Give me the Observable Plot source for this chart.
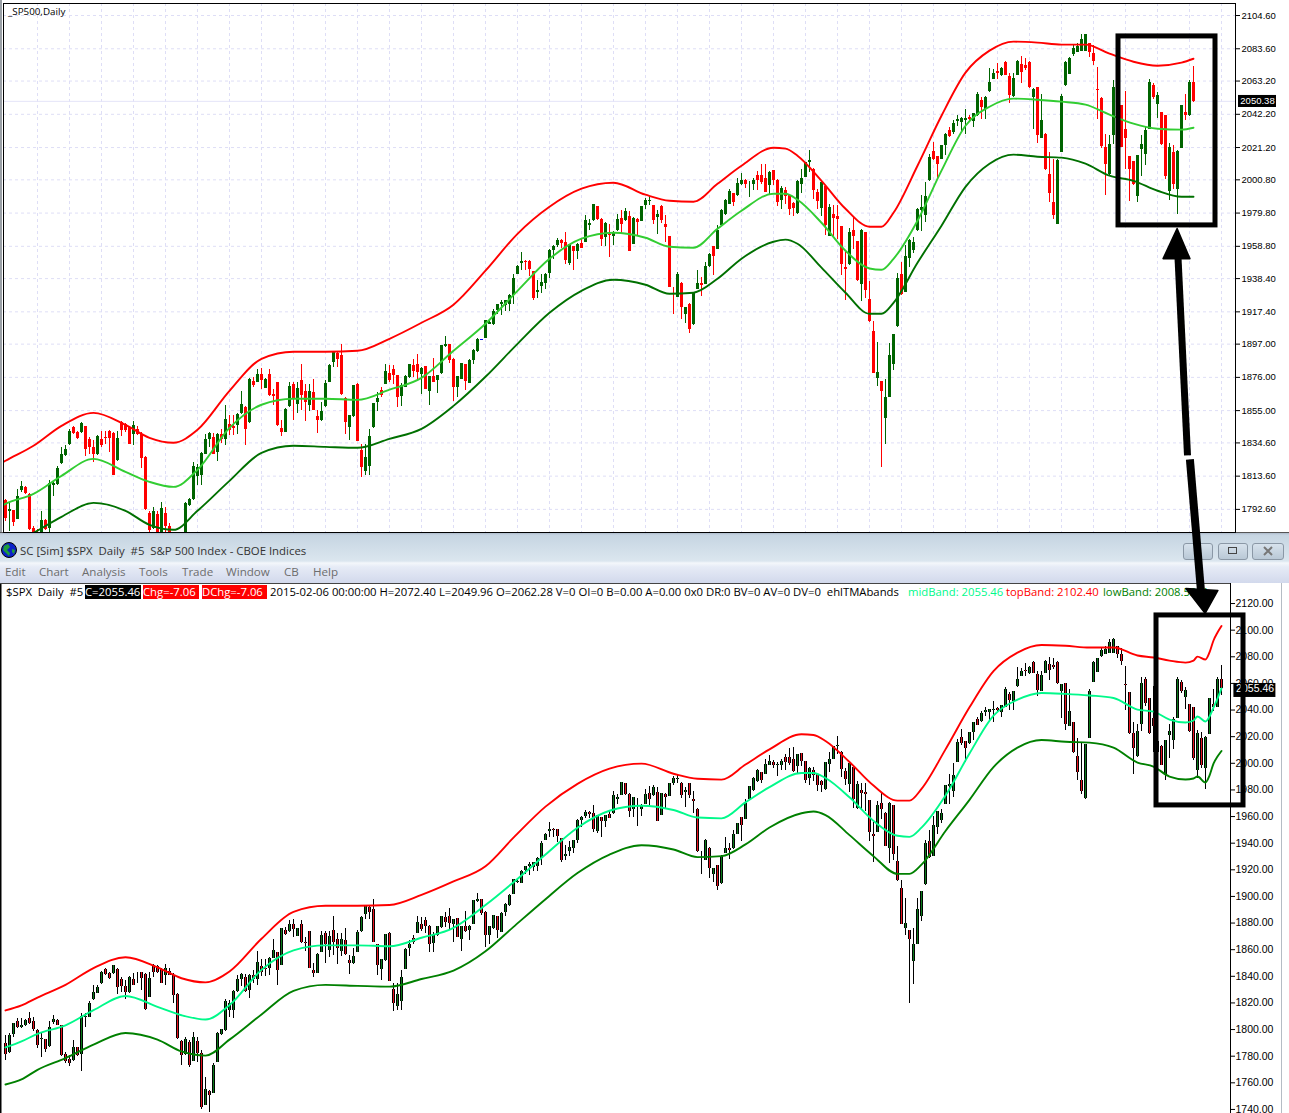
<!DOCTYPE html>
<html><head><meta charset="utf-8">
<script src="https://cdn.jsdelivr.net/npm/d3@7"></script>
<script src="https://cdn.jsdelivr.net/npm/@observablehq/plot@0.6"></script>
<style>
html,body{margin:0;padding:0;background:#fff;width:1289px;height:1113px;overflow:hidden;font-family:"Open Sans","Noto Sans",sans-serif}
#page{position:relative;width:1289px;height:1113px;overflow:hidden}
.abs{position:absolute;white-space:pre}
#topPanel{position:absolute;left:0;top:0;z-index:5}
#bottomPanel{position:absolute;left:0;top:583px;z-index:2}
#chrome{position:absolute;left:0;top:532px;width:1289px;height:51px;z-index:1;background:linear-gradient(#aebccb 0,#c6d5e2 2px,#dbe6ef 28px,#f4f7fb 30px,#e6ebf6 34px,#d2d9ec 50px);border-top:1px solid #555;box-sizing:border-box}
.title{font-size:11.4px;color:#333;z-index:3;top:543px;line-height:16px}
.menu{font-size:11.6px;color:#6d6d6d;z-index:3;top:564px;line-height:16px}
.info{font-size:11.3px;color:#000;z-index:3;top:585px;line-height:14px;height:14px}
.btn{position:absolute;top:543px;height:15px;border:1px solid #8b98a6;border-radius:3px;z-index:3;background:linear-gradient(#d7e2ec,#b9c8d6);box-sizing:content-box}
</style></head><body><div id="page">
<div id="chrome"></div>
<div id="topPanel"></div>
<div id="bottomPanel"></div>
</div>
<script>
// Candle values, oldest to newest. The first 8 appear only in the lower chart; index 127 only in the upper one.
const opens=[1788.5,1782.3,1795.6,1805,1801,1802,1807.3,1805,
1798.5,1791.5,1791.6,1786.4,1804.3,1806.4,1802,1780.5,1777,1776,1785.5,1780.5,1808,1808.5,1821.6,1826.4,1833.8,1844.3,1841,1841,1844.7,1837,
1831.7,1827,1837,1837.8,1841.8,1840.5,1823.2,1847.5,1846.4,1844.3,1839.7,1843.2,1840,1825.5,1790,1780.5,1789.5,1775.5,1790,1781.5,
1742.5,1752.5,1751.5,1774.8,1795.3,1798.6,1813.6,1813.8,1827.5,1837,1838,1828.5,1840,1836.9,1846.4,1844.8,1845.4,1853,1857,1847.5,
1873.4,1872.8,1878,1869,1878,1865,1872.8,1843.9,1841.2,1857.4,1871.3,1858.6,1873.8,1867,1858,1866.4,1851,1848.5,1857.4,1872.8,
1885.4,1891.1,1889.6,1862.9,1844.3,1851,1871.3,1829.6,1816.5,1820,1844.3,1860.1,1867.5,1871.7,1878.4,1881.2,1877,1864,1869.6,1875.9,
1883.3,1884.3,1878,1882.7,1867,1876.3,1873.8,1878.4,1895.3,1896.6,1887.5,1869.6,1874.9,1884,1872.1,1886.9,1892.3,1899.9,1900.8,1909.6,
1909.2,1918.5,1921.8,1921.2,1921.8,1927.5,1941.2,1948,1949.2,1949.2,1942.7,1929.4,1933.2,1935.3,1941.6,1956,1959.1,1962.3,1961.2,1948,
1958.5,1955.6,1960.6,1961.2,1971.8,1974.9,1983.8,1976,1964.4,1966,1964.8,1968.6,1976.6,1974.9,1977.5,1960.2,1976,1974.5,1984.4,1987.2,
1984.4,1977,1984,1972.4,1964.8,1928,1926.5,1935.3,1916,1922.3,1909.2,1931.7,1935.3,1934.9,1945.9,1958.5,1957,1971.8,1978.7,1985.5,
1992.2,1990.7,1997.7,2000.2,1997.7,1997.7,2003.4,2003.4,2001.9,1997,2006.5,2000.6,1987.6,1993.9,1990.7,1985.9,1979.6,1998.1,2002.3,2011.8,
2007.6,1992.8,1983,1996.4,1965,1978.7,1977.5,1971.1,1945.4,1947.1,1969,1961.9,1934.9,1967.6,1925.4,1905,1875.5,1873.4,1850.2,1863.3,
1883.9,1907.9,1940.8,1929.6,1951.3,1956,1968.6,1981.7,1978.1,2000.2,2018.8,2015.4,2013.9,2022.3,2031.8,2030.8,2037.5,2037.1,2038.6,2040.2,
2037.7,2041.3,2050.8,2045.5,2056.7,2064.5,2069.3,2066.6,2075,2066,2053.3,2066.6,2073.5,2072.9,2075,2053,2059.2,2027.2,2029.7,2004.4,
1986.5,1972.8,2018,2060.2,2067.6,2079.8,2081.3,2081.9,2081.9,2087,2080.7,2058.1,2052.4,2021.3,2004,2028.6,2062,2047.6,2032.9,2015.4,
2012.2,1990.1,2019.8,2016.7,2032.9,2060.3,2048.7,2043.4,2041.3,1993.5,2018.1,1995,2020.9,2043.4,2041.3,2062.28];
const highs=[1795,1796,1804,1807.3,1807.3,1806.6,1812.3,1808,
1799,1797,1792,1805,1810,1807,1802.5,1782,1779.8,1791,1786,1811,1811,1820,1832,1832.7,1843,1845,1842,1847.5,1845,1838,
1836,1839,1841.5,1842,1842.3,1841,1842,1848,1847,1845,1848,1845,1841,1826,1791,1793.5,1791,1797,1793.5,1783.5,
1763.5,1753.5,1773.5,1797,1799.5,1822.2,1821,1828.5,1840,1841,1840.5,1840.5,1843.3,1858,1851.7,1851.7,1853.2,1867,1857.5,1875.5,
1876,1881,1881.8,1875.5,1881.2,1868.5,1873,1848.5,1856.5,1872.8,1872.8,1872.8,1883.9,1871.7,1871.7,1874.9,1854.9,1860.1,1873.8,1884.4,
1892.4,1892.4,1896.6,1863.2,1851.9,1871,1872.1,1833.8,1833.8,1843.3,1859.8,1866.4,1869.6,1883.9,1883.3,1883.3,1877.5,1872,1877,1884.4,
1887.5,1890.2,1882,1883,1876.5,1888.1,1877.5,1896,1901.6,1897,1888,1876.5,1885,1884.3,1887,1893.8,1900.4,1899.9,1912,1911,
1919.1,1922,1924.8,1924.6,1928.2,1940.8,1946.5,1954.9,1950,1949.6,1943,1937.4,1940.8,1941.4,1957,1959,1964,1963.3,1967.6,1960,
1958.8,1960.4,1963.3,1978.1,1976,1985.2,1984,1976.2,1973.8,1972.8,1968.2,1979.2,1981.7,1982.9,1980.8,1976.8,1976.2,1984,1989.3,1990.1,
1984.7,1981.3,1984.4,1978.1,1965,1932.8,1942,1935.9,1920.4,1922.5,1929.8,1943.7,1939.1,1948.6,1954.3,1958.7,1971.8,1981.9,1988.6,1994.9,
1992.4,2001.9,2004.9,2001.3,1999.8,2001.9,2006.1,2010.3,2010.8,2006.1,2006.7,2000.8,1996.4,1996,1991.8,1986.5,2000.2,2007.6,2011.9,2019.2,
2007.8,1995,1999.4,1996.6,1985.5,1984.4,1984.4,1971.3,1954.9,1970.3,1977.5,1962.1,1969.6,1967.8,1936.6,1911.3,1898,1873.6,1874.9,1897.4,
1903.1,1941.6,1948.6,1959.1,1963,1964.4,1982.5,1990.7,1999.2,2017,2024.5,2015.6,2022.5,2030.2,2033.9,2038.2,2041.3,2040,2045.5,2041.3,
2042.8,2056,2052.5,2053.3,2071.4,2070.8,2074,2071.8,2075.5,2068,2068,2076.2,2079,2077.7,2075.6,2058.8,2059.4,2055,2029.9,2018,
2013.9,2013.5,2055,2075.5,2078,2086.2,2087,2092.5,2092.9,2087.2,2085.5,2071.8,2052.8,2029.7,2028.6,2063.4,2063.4,2047.8,2056.7,2015.6,
2012.4,2016.2,2028.7,2033.9,2063.9,2061.4,2056,2043.6,2041.5,2023.8,2022.3,2019.6,2047.8,2054.6,2063.4,2072.4];
const lows=[1776,1781.5,1793.5,1799.8,1799.8,1801.5,1803,1798,
1785,1778.5,1782,1786,1803,1802,1779,1773.5,1771.5,1775,1779,1768,1801,1808,1821,1826,1833,1840,1837,1840.5,1825.8,1827,
1822,1826.5,1832,1833.8,1828.5,1813.8,1823,1838.4,1841,1833.5,1832.7,1839.5,1818.6,1791.6,1772.3,1780,1770.5,1775,1774.8,1739,
1742,1737.2,1751,1774.5,1794.5,1798,1808,1807.4,1827,1831.7,1827,1822.8,1834,1832.7,1839,1839,1840,1852.3,1832.7,1847,
1869.6,1872.5,1868.5,1868.8,1864,1858,1845,1838.4,1841,1857,1848.5,1853.2,1854.9,1848.1,1854.4,1855,1840.5,1848,1857,1872.5,
1882.2,1882.2,1864.3,1839.7,1836.3,1850.5,1835.2,1812.7,1813.8,1813.8,1844,1854.4,1863,1871.5,1872.8,1871.7,1857,1857.3,1869.5,1875,
1875.9,1873.8,1865,1868.2,1858,1872.5,1865.8,1878,1895,1884.8,1860.7,1863.3,1874.5,1867.5,1872,1884.3,1892,1899.1,1900.5,1909.3,
1908.6,1915.5,1914.9,1917.6,1917.6,1922.3,1941,1943.3,1943.3,1939.5,1924.4,1926,1929,1931.7,1938.7,1950.7,1958,1957.7,1947.1,1946.5,
1943.3,1950.7,1957.5,1961,1968.6,1974.7,1975.4,1958.5,1958.5,1951.8,1959.1,1968.2,1966.5,1974.5,1955.3,1959.7,1964.8,1974.3,1982.3,1984.4,
1972.8,1966.1,1973,1961.2,1932.6,1915.9,1926.3,1912.8,1910,1903.7,1908.5,1931.5,1926.9,1934.7,1945.7,1940.2,1956.8,1971.6,1978.1,1985,
1983.8,1990.5,1997.5,1995.6,1989.7,1993.9,1993.9,1997.7,1992.6,1991.4,1997.1,1983.8,1982.3,1985.5,1978.1,1977.5,1978.7,1992.2,2002,2005.5,
1988.6,1982.3,1977.5,1965.4,1964.8,1964.8,1963,1940.2,1924.4,1946.9,1957,1936.8,1923.9,1926.1,1910.7,1878.2,1870,1819,1833.4,1863,
1880.6,1907.7,1928,1929.4,1945.4,1954.3,1968.4,1968.2,1973.9,2000,2012.9,2000.2,2013.7,2016,2027.8,2029.7,2034.4,2030.8,2029.7,2037.1,
2033.9,2041,2039.2,2039.2,2056,2064.3,2064.5,2066,2066.4,2049.1,2053,2066.4,2061.7,2070,2058.8,2032.8,2023.8,2027,2006.5,1986.5,
1976,1972.4,2017.8,2060,2067.4,2078.6,2081,2081.7,2081.7,2078.1,2072.9,2039.2,2020.8,1990.7,2003.8,2023.4,2042,2021,2007.6,1987.2,
1997.5,1986.5,2002.8,2009.7,2032.7,2051.8,2039.8,2022.3,2001.3,1988,1995,1979.2,2020.7,2038,2041.1,2049.96];
const closes=[1780.5,1794.8,1803.6,1801,1802,1806,1804,1799,
1787,1792.3,1784.3,1801,1806.8,1802.6,1780,1775,1774,1785.5,1779.8,1809,1809,1818.6,1827.4,1830.6,1841.8,1840.5,1837.6,1847,1830.6,1831.7,
1827,1838.4,1832.7,1837.4,1837.6,1814.2,1837.6,1842.2,1842.2,1833.8,1845.4,1840,1825,1792.7,1779.5,1791.5,1772.3,1793,1781.5,1740.5,
1754,1749.8,1772.3,1796.6,1799,1820,1819,1827.9,1837,1840.5,1827.5,1840.1,1836.9,1849.6,1842.2,1844,1852.3,1858.6,1843.3,1874.9,
1870.7,1878,1874.2,1874.9,1864.3,1864.1,1845.4,1841.2,1855.9,1870,1862.9,1869,1864.3,1860.1,1867,1855.3,1848.5,1854.4,1872.1,1883.3,
1891.7,1887.5,1865,1847.5,1851.7,1870.7,1835.5,1819,1825.3,1838.4,1859.5,1862.9,1864.3,1879.7,1874.2,1877,1863.3,1871,1876.3,1884,
1879.7,1879,1881.8,1868.5,1876.3,1872.7,1877,1895.9,1896.6,1886.4,1869.6,1876.3,1884.8,1873.4,1886.4,1893.2,1900.1,1899.2,1911.7,1910.7,
1917.6,1921.8,1923.3,1924.4,1927.5,1938.7,1945.9,1949.2,1948.6,1944.4,1926,1931.1,1935.7,1941.2,1956.4,1958.5,1962.3,1960.6,1949.7,1959.8,
1955.6,1960.2,1957.7,1974.9,1973.2,1985,1976,1963.3,1973.2,1965.7,1966.9,1976,1972.4,1980.8,1955.5,1976.6,1973.9,1983.8,1988,1988,
1975.4,1978.7,1975,1970.7,1932.8,1927.5,1941.2,1920.2,1920.2,1906.5,1929.6,1935.3,1933.8,1945.9,1953.9,1952.2,1969,1981.7,1987.6,1993.5,
1986.5,1998.5,2000.6,1997.7,1998.1,2000.6,2000.2,1999.2,1992.8,2005.5,2000.6,1986.5,1995.6,1990.1,1982.3,1982.9,1999.8,2001.9,2011.8,2012.9,
1994.3,1987.2,1999.2,1971.8,1983.5,1976.6,1976,1947.1,1944.2,1967.6,1964.8,1937,1969,1931.1,1911.3,1878.4,1879,1867,1863.3,1889.6,
1902.9,1938.7,1928.2,1952.2,1962.7,1961.2,1982.3,1983.4,1990.1,2015,2013.9,2010.3,2022.3,2029.7,2028,2036.5,2038.8,2039.6,2039.8,2039.2,
2042.4,2055,2046.2,2052.9,2062.4,2068,2068,2071.4,2066.6,2054,2065.1,2075.7,2068.7,2071.4,2059.2,2058.1,2028.6,2038.5,2007.6,1992.2,
1978.1,2013.2,2053.3,2075,2077.7,2084,2084.9,2089.7,2092.5,2081.3,2075.6,2057.5,2021.7,2010.3,2023.4,2059.2,2044,2021.3,2026.6,2007.6,
1997.7,2016,2023,2032.2,2062.4,2052.9,2054,2023.4,2002.8,2021.3,1997.7,2018.8,2047.6,2041.3,2062.4,2050.38];
const lowerLastClose=2055.46;
const upperOnlyIndex=127, lowerOnlyCount=8;

// Band readings at sampled candle indexes, shared by both charts until the last weeks.
const bandIndex=[0,4,8,15,22,30,38,44,50,56,64,72,80,88,96,104,112,120,128,136,144,152,160,168,174,180,186,192,200,203,206,212,218,224,227,230,236,242,248,254,260,266,272,278,284,290,296,302,305];
const topBand=[1813.6,1817.4,1823.3,1832.8,1845.4,1853.6,1846,1837.8,1834.7,1842.9,1867.5,1887.7,1892.2,1892.2,1892.8,1900.4,1910.5,1921.9,1943.4,1966.7,1983.8,1995.2,1999,1991.4,1987.6,1987,1998.3,2009.7,2021.1,2020.5,2016,2000.2,1982.5,1971.2,1971.2,1980,2009.7,2041.3,2068.5,2082.4,2088.1,2087.5,2086.2,2086.2,2080.5,2075.4,2072.9,2074.8,2077.3];
const midBand=[1785.8,1790.3,1796.1,1802.4,1813.8,1824.5,1816.3,1810,1806.8,1817.6,1844.1,1858.7,1862.5,1862.5,1861.8,1868.2,1875.7,1892.8,1909.9,1930.7,1950.9,1963.6,1967.4,1964.2,1958.5,1957.9,1969.9,1981.3,1992,1992,1988.2,1973.7,1956,1944.8,1944,1950.9,1975,2006.6,2035,2047,2052.1,2051.4,2050.2,2048.3,2042,2036.3,2033.1,2032.5,2033.7];
const lowBand=[1758,1761.8,1769,1777.8,1787.9,1796.7,1791.7,1782.8,1779.7,1791.7,1810.6,1828.3,1832.8,1832.1,1831.5,1837.2,1843.5,1858,1876.4,1897.2,1916.8,1930.7,1937.7,1934.5,1928.8,1929.5,1938.3,1951,1961.7,1963,1960.4,1945.3,1929.5,1916.2,1916.2,1923.1,1948.4,1971.8,1996.4,2011,2016.7,2015.4,2014.8,2011,2003.4,2000.2,1993.9,1990.1,1990.1];
// The lower chart's bands end differently.
const lowerSharedUntil=278;
const lowerTailIndex=[284,288,292,296,298,299,301,302,303,304,305];
const lowerTailTop=[2080.2,2078.7,2076.4,2074.9,2076.4,2079.4,2077.2,2082.5,2091.5,2097.5,2102.4];
const lowerTailMid=[2039.6,2038.1,2032.1,2029.9,2031.4,2034.4,2030.6,2034.4,2041.1,2047.9,2055.46];
const lowerTailLow=[1999.8,1996.8,1989.3,1987.1,1987.8,1989.3,1984.8,1990,1999,2004.3,2008.52];

// Axis labels
const upperTicks=[2104.6,2083.6,2063.2,2042.2,2021.2,2000.8,1979.8,1958.8,1938.4,1917.4,1897,1876,1855,1834.6,1813.6,1792.6];
const lowerTicks=[2120,2100,2080,2060,2040,2020,2000,1980,1960,1940,1920,1900,1880,1860,1840,1820,1800,1780,1760,1740];
const upperLast=2050.38;
const upperGridEvery=8;

// Annotations, in each chart's slot and price units
const upperBox={x1:278.25,x2:302.5,y1:1972,y2:2091.4};
const lowerBox={x1:287.75,x2:309.5,y1:1967.6,y2:2110.3};
const upperShaft=[{x:293.1,y:1953},{x:295.5,y:1826.7}];
const lowerShaft=[{x:296.1,y:1824.2},{x:298.9,y:1740.1}];
const upperHead=[{x:292.9,y:1970},{x:289.4,y:1951},{x:296.1,y:1951},{x:292.9,y:1970}];
const lowerHead=[{x:299.9,y:1726.9},{x:295.1,y:1742.6},{x:303.1,y:1741.4},{x:299.9,y:1726.9}];

const candles=opens.map((o,k)=>({k,o,h:highs[k],l:lows[k],c:closes[k]}));
const upperSlot=k=>k-lowerOnlyCount;
const lowerSlot=k=>k<upperOnlyIndex?k:k-1;
const upperCandles=candles.filter(d=>d.k>=lowerOnlyCount).map(d=>({...d,x:upperSlot(d.k)}));
const lowerCandles=candles.filter(d=>d.k!==upperOnlyIndex).map((d,i,a)=>({...d,x:lowerSlot(d.k),c:i===a.length-1?lowerLastClose:d.c}));
const upperBands=bandIndex.map((k,i)=>({x:upperSlot(k),t:topBand[i],m:midBand[i],b:lowBand[i]}));
const lowerBands=bandIndex.map((k,i)=>({k,x:lowerSlot(k),t:topBand[i],m:midBand[i],b:lowBand[i]})).filter(d=>d.k<=lowerSharedUntil)
  .concat(lowerTailIndex.map((k,i)=>({k,x:lowerSlot(k),t:lowerTailTop[i],m:lowerTailMid[i],b:lowerTailLow[i]})));

const axisFont='"Liberation Sans",Arial,sans-serif';
const BEAR="#ff0000",BULL="#006400",DOJI="#0000ff";
const candleColor=d=>d.k===upperOnlyIndex?DOJI:(d.c<d.o?BEAR:BULL);
const band=(rows,key,stroke)=>Plot.line(rows,{x:"x",y:key,stroke,strokeWidth:1.9,curve:"monotone-x",clip:true});

const upper=Plot.plot({
  width:1289,height:532,marginLeft:3,marginRight:54,marginTop:3,marginBottom:0,
  style:{background:"transparent",overflow:"visible"},
  x:{domain:[-0.5,307.5],axis:null},
  y:{domain:[1778,2112.2]},
  marks:[
    Plot.ruleX(d3.range(upperGridEvery,308,upperGridEvery),{stroke:"#dedef6",strokeDasharray:"3,3"}),
    Plot.ruleY(upperTicks,{stroke:"#dedef6",strokeDasharray:"3,3"}),
    Plot.ruleY([upperLast],{stroke:"#e4e4f8"}),
    Plot.ruleX(upperCandles,{x:"x",y1:"l",y2:"h",stroke:candleColor,strokeWidth:1,shapeRendering:"crispEdges",clip:true}),
    Plot.ruleX(upperCandles,{x:"x",y1:"o",y2:"c",stroke:candleColor,strokeWidth:3,shapeRendering:"crispEdges",clip:true}),
    band(upperBands,"t","#ff0000"),band(upperBands,"m","#32cd32"),band(upperBands,"b","#007000"),
    Plot.frame({stroke:"#000"}),
    Plot.axisY({anchor:"right",ticks:upperTicks,tickFormat:d=>d.toFixed(2),tickSize:4,tickPadding:2,fontSize:9.5,fontFamily:axisFont,color:"#000",label:null}),
    Plot.rect([{x1:308.25,x2:317.75,y1:2046.5,y2:2054.1}],{x1:"x1",x2:"x2",y1:"y1",y2:"y2",fill:"#000"}),
    Plot.text([upperLast],{x:()=>313,y:d=>d,text:d=>d.toFixed(2),fill:"#fff",fontSize:9.5,fontFamily:axisFont}),
    Plot.rect([upperBox],{x1:"x1",x2:"x2",y1:"y1",y2:"y2",stroke:"#000",strokeWidth:5,fill:"none"}),
    Plot.line(upperShaft,{x:"x",y:"y",stroke:"#000",strokeWidth:7,strokeLinecap:"butt"}),
    Plot.line(lowerShaft,{x:"x",y:"y",stroke:"#000",strokeWidth:8,strokeLinecap:"butt"}),
    Plot.line(upperHead,{x:"x",y:"y",fill:"#000",stroke:"#000"}),
    Plot.line(lowerHead,{x:"x",y:"y",fill:"#000",stroke:"#000"})
  ]
});
document.getElementById("topPanel").append(upper);

const lower=Plot.plot({
  width:1289,height:530,marginLeft:0,marginRight:59,marginTop:0,marginBottom:0,
  style:{background:"transparent",overflow:"visible"},
  x:{domain:[-1.25,306.25],axis:null},
  y:{domain:[1736.2,2134.3]},
  marks:[
    Plot.ruleX(lowerCandles,{x:"x",y1:"l",y2:"h",stroke:"#000",strokeWidth:1,shapeRendering:"crispEdges",clip:true}),
    Plot.ruleX(lowerCandles,{x:"x",y1:"o",y2:"c",stroke:"#000",strokeWidth:3,shapeRendering:"crispEdges",clip:true}),
    Plot.ruleX(lowerCandles,{x:"x",y1:"o",y2:"c",stroke:d=>d.c<d.o?"#e8131f":"#0b7a1a",strokeWidth:1,shapeRendering:"crispEdges",clip:true}),
    band(lowerBands,"t","#ff0000"),band(lowerBands,"m","#00f98a"),band(lowerBands,"b","#008000"),
    Plot.ruleX([306.25],{stroke:"#000"}),
    Plot.ruleX([-1.25],{stroke:"#000",strokeWidth:2}),
    Plot.ruleY([2134.3],{stroke:"#444"}),
    Plot.axisY({anchor:"right",ticks:lowerTicks,tickFormat:d=>d.toFixed(2),tickSize:4,tickPadding:1,dy:1,fontSize:10.5,fontFamily:axisFont,color:"#000",label:null}),
    Plot.rect([{x1:307.1,x2:317.6,y1:2048.7,y2:2059.2}],{x1:"x1",x2:"x2",y1:"y1",y2:"y2",fill:"#000"}),
    Plot.text([lowerLastClose],{x:()=>312.4,y:d=>d,text:d=>d.toFixed(2),fill:"#fff",fontSize:10.5,fontFamily:axisFont}),
    Plot.rect([lowerBox],{x1:"x1",x2:"x2",y1:"y1",y2:"y2",stroke:"#000",strokeWidth:5,fill:"none"})
  ]
});
document.getElementById("bottomPanel").append(lower);

// Window furniture and read-outs
const page=document.getElementById("page");
function label(cls,text,left,extra){const e=document.createElement("div");e.className="abs "+cls;e.textContent=text;e.style.left=left+"px";if(extra)Object.assign(e.style,extra);page.append(e);return e;}
label("","_SP500,Daily",8,{fontSize:"9.8px",lineHeight:"14px",zIndex:6,color:"#000",top:"5px"});
label("title","SC [Sim] $SPX  Daily  #5  S&P 500 Index - CBOE Indices",20);
const menuItems=[["Edit",5],["Chart",39],["Analysis",82],["Tools",139],["Trade",182],["Window",226],["CB",284],["Help",313]];
menuItems.forEach(([t,x])=>label("menu",t,x));
label("info","$SPX  Daily  #5",6);
label("info","C=2055.46",85,{background:"#000",color:"#fff",width:"56px"});
label("info","Chg=-7.06",143,{background:"#f00",color:"#fff",width:"56px"});
label("info","DChg=-7.06",202,{background:"#f00",color:"#fff",width:"65px"});
label("info","2015-02-06 00:00:00 H=2072.40 L=2049.96 O=2062.28 V=0 OI=0 B=0.00 A=0.00 0x0 DR:0 BV=0 AV=0 DV=0  ehlTMAbands",270);
label("info","midBand: 2055.46",908,{color:"#00f98a"});
label("info","topBand: 2102.40",1006,{color:"#f00"});
label("info","lowBand: 2008.52, 1",1103,{color:"#008000"});

// Globe and caption buttons
const globe=document.createElementNS("http://www.w3.org/2000/svg","svg");
globe.setAttribute("width","16");globe.setAttribute("height","16");globe.style.cssText="position:absolute;left:1px;top:542px;z-index:3";
globe.innerHTML='<circle cx="8" cy="8" r="7.5" fill="#0c22c8" stroke="#000"/><path d="M3 4 L7 2 L9 5 L6 8 L9 11 L8 14 L5 11 L2 8Z M11 7 L14 8 L13 12 L11 10Z" fill="#1f9d3a"/>';
page.append(globe);
[[1183,28],[1218,28],[1252,30]].forEach(([x,w],i)=>{const b=document.createElement("div");b.className="btn";b.style.left=x+"px";b.style.width=w+"px";
 if(i===1)b.innerHTML='<div style="position:absolute;left:9px;top:3px;width:9px;height:7px;border:1px solid #444;box-sizing:border-box"></div>';
 if(i===2)b.innerHTML='<svg width="30" height="15" style="position:absolute;left:0;top:0"><path d="M11 3L19 11M19 3L11 11" stroke="#777" stroke-width="2"/></svg>';
 page.append(b);});
const strip=document.createElement("div");strip.style.cssText="position:absolute;left:0;top:0;width:2px;height:532px;background:#9aa0a6;z-index:6";page.append(strip);
const strip2=document.createElement("div");strip2.style.cssText="position:absolute;left:1281px;top:583px;width:1px;height:530px;background:#b5bcc4;z-index:3";page.append(strip2);
</script></body></html>
